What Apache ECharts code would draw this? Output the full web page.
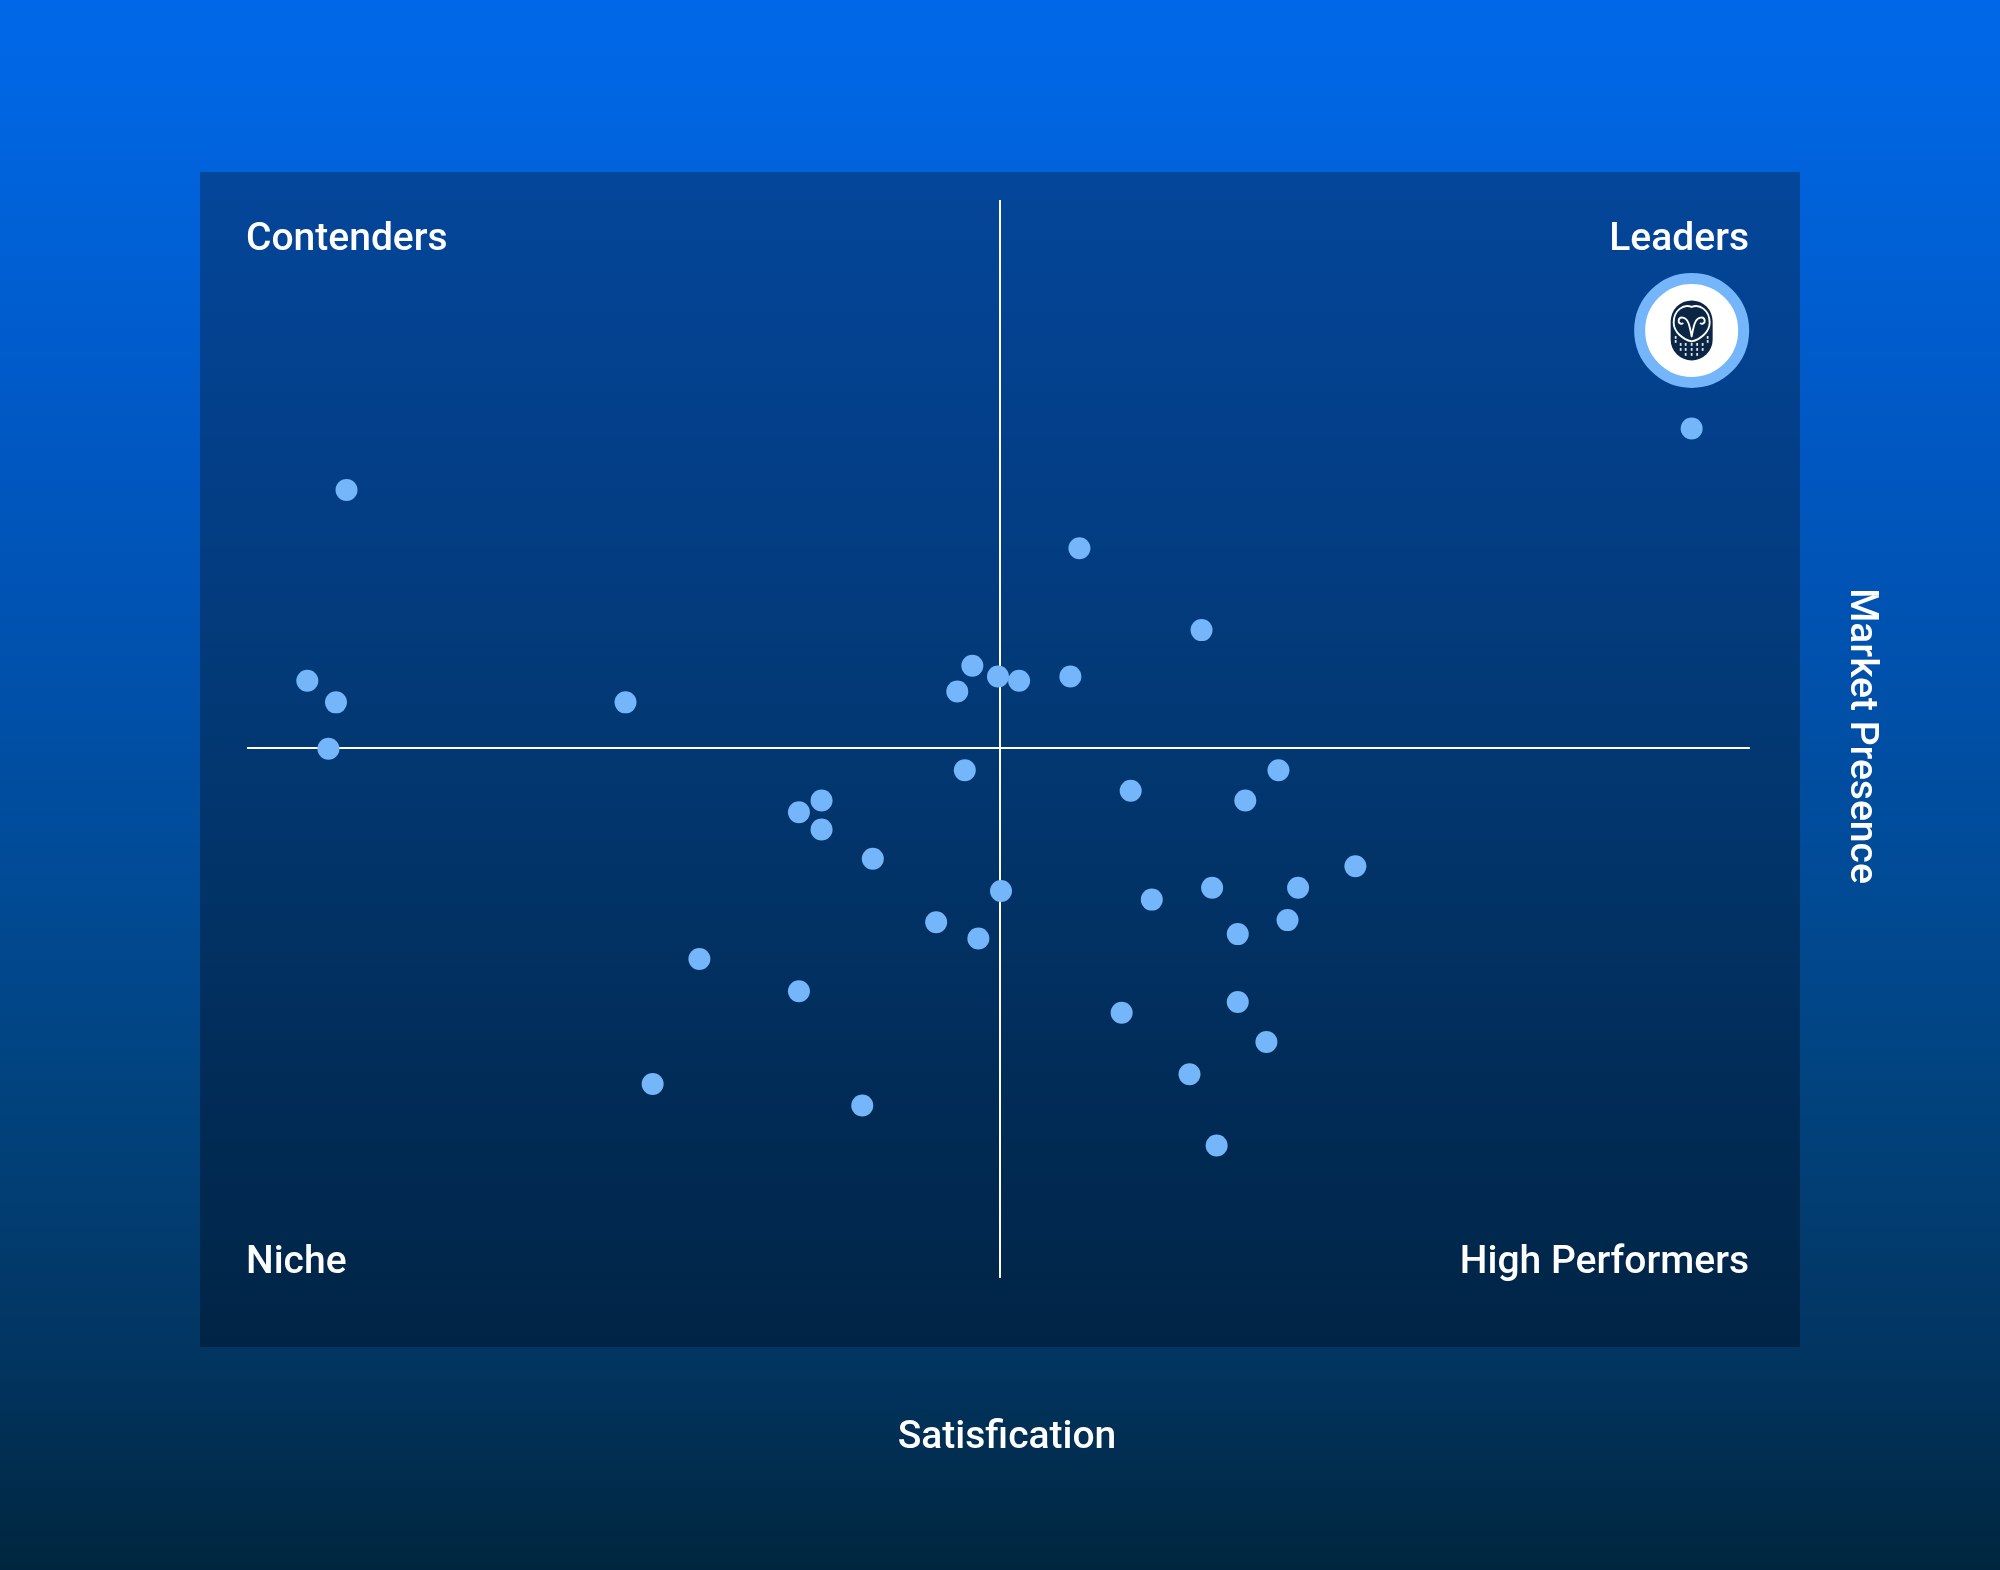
<!DOCTYPE html>
<html><head><meta charset="utf-8">
<style>html,body{margin:0;padding:0;background:#00263F}#c{width:2000px;height:1570px}</style>
<script src="https://cdn.jsdelivr.net/npm/echarts@6/dist/echarts.min.js"></script>
</head><body><div id="c"></div>
<script>
// Values on a 0-100 scale for both axes
const satisfaction = [95.8,6.6,55.2,63.3,48.1,49.8,51.2,54.6,47.1,4.0,5.9,25.1,5.4,47.6,68.4,58.6,66.2,36.6,38.1,38.1,41.5,73.5,69.7,64.0,60.0,50.0,45.7,48.5,69.0,65.7,30.0,36.6,65.7,58.0,67.6,62.5,26.9,40.8,64.3];
const presence = [78.8,73.1,67.7,60.1,56.8,55.8,55.4,55.8,54.4,55.4,53.4,53.4,49.1,47.1,47.1,45.2,44.3,43.2,44.3,41.6,38.9,38.2,36.2,36.2,35.1,35.9,33.0,31.5,33.2,31.9,29.6,26.6,25.6,24.6,21.9,18.9,18.0,16.0,12.3];
const featured = [95.8, 87.9];
const crossX = 49.93, crossY = 49.2, crossXStart = 0, crossXEnd = 99.66;
const quadrantLabels = ['Contenders','Leaders','Niche','High Performers'];
const xAxisTitle = 'Satisfication', yAxisTitle = 'Market Presence';

const chart = echarts.init(document.getElementById('c'), null, {renderer:'canvas', width:2000, height:1570});
const textStyle = {fill:'#fff', font:'500 39px Roboto'};
const g = (stops) => new echarts.graphic.LinearGradient(0,0,0,1,stops.map((s)=>({offset:s[0],color:s[1]})));

function owl(params, api){
  const c = api.coord([api.value(0), api.value(1)]);
  const dark = '#0B2545';
  const line = {stroke:'#fff', fill:'none', lineWidth:1.9, lineCap:'round', lineJoin:'round'};
  const kids = [
    {type:'rect', shape:{x:-21,y:-30,width:42,height:60,r:21}, style:{fill:dark}},
    {type:'path', shape:{pathData:'M0,-23.5 C-8,-27 -18,-20 -18,-8 C-18,2 -8,9 0,11 C8,9 18,2 18,-8 C18,-20 8,-27 0,-23.5 Z', layout:'none'}, style:line},
    {type:'path', shape:{pathData:'M0,6 C-1,1 -2,-6 -4,-9 C-6,-13 -12,-15 -13,-10 C-13.5,-7 -10,-6 -9,-7 M0,6 C1,1 2,-6 4,-9 C6,-13 12,-15 13,-10 C13.5,-7 10,-6 9,-7', layout:'none'}, style:line}
  ];
  const dots = [[-16,7],[16,7],[-16,11],[16,11],[-11,14],[-6,14],[0,14],[5.5,14],[11,14],[-11,19],[-6,19],[0,19],[5.5,19],[11,19],[-6,24],[0,24],[5.5,24]];
  dots.forEach(d=>kids.push({type:'rect', shape:{x:d[0]-.9,y:d[1]-1.4,width:1.8,height:2.8}, style:{fill:'#DFE8F2'}}));
  return {type:'group', x:c[0], y:c[1], children:kids};
}

chart.setOption({
  animation:false,
  backgroundColor:g([[0,'#0068E8'],[.108,'#0063DC'],[.27,'#0058C4'],[.465,'#004FA6'],[.69,'#01437F'],[.858,'#023562'],[1,'#00263F']]),
  grid:{left:247,top:200,width:1508,height:1078},
  xAxis:{type:'value',min:0,max:100,show:false},
  yAxis:{type:'value',min:0,max:100,show:false},
  graphic:[
    {type:'rect',z:-1,shape:{x:200,y:172,width:1600,height:1175},style:{fill:g([[0,'#04469A'],[.22,'#033F8A'],[.475,'#023873'],[.77,'#012C58'],[1,'#002445']])}},
    {type:'text',x:246,y:240,style:{...textStyle,text:quadrantLabels[0],textAlign:'left',textVerticalAlign:'middle'}},
    {type:'text',x:1749,y:240,style:{...textStyle,text:quadrantLabels[1],textAlign:'right',textVerticalAlign:'middle'}},
    {type:'text',x:246,y:1263,style:{...textStyle,text:quadrantLabels[2],textAlign:'left',textVerticalAlign:'middle'}},
    {type:'text',x:1749,y:1263,style:{...textStyle,text:quadrantLabels[3],textAlign:'right',textVerticalAlign:'middle'}},
    {type:'text',x:1007,y:1438,style:{...textStyle,text:xAxisTitle,textAlign:'center',textVerticalAlign:'middle'}},
    {type:'text',x:1861,y:736,rotation:-Math.PI/2,style:{...textStyle,text:yAxisTitle,textAlign:'center',textVerticalAlign:'middle'}}
  ],
  series:[
    {type:'scatter',symbolSize:22,z:3,clip:false,itemStyle:{color:'#74B6F9',opacity:1},
     data:satisfaction.map((v,i)=>[v,presence[i]]),
     markLine:{silent:true,symbol:'none',label:{show:false},animation:false,z:2,
       lineStyle:{color:'#fff',width:2,type:'solid',opacity:1},
       data:[
         [{coord:[crossX,0]},{coord:[crossX,100]}],
         [{coord:[crossXStart,crossY]},{coord:[crossXEnd,crossY]}]
       ]}},
    {type:'scatter',symbolSize:104,z:4,data:[featured],clip:false,
     itemStyle:{color:'#fff',borderColor:'#74B6F9',borderWidth:11,opacity:1}},
    {type:'custom',z:5,renderItem:owl,data:[featured],clip:false}
  ]
});
</script></body></html>
